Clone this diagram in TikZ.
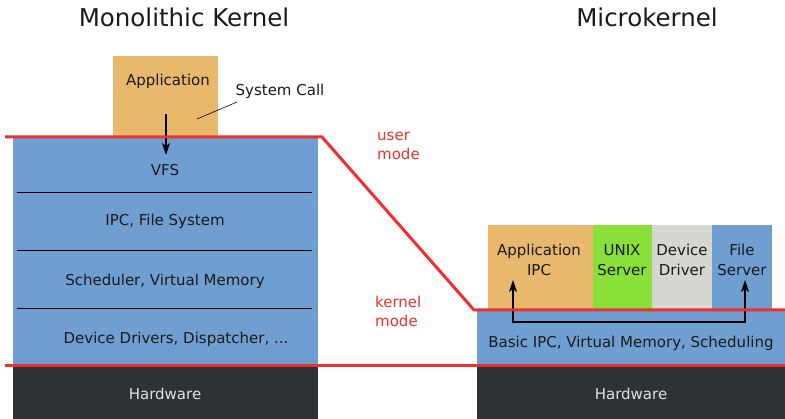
\documentclass[tikz,border=0pt]{standalone}
\usepackage{fontspec}
\setmainfont{DejaVu Sans}
\usetikzlibrary{arrows.meta}
\definecolor{appc}{HTML}{E8B86C}
\definecolor{bluec}{HTML}{6F9FD0}
\definecolor{hwc}{HTML}{2E3236}
\definecolor{greenc}{HTML}{88E038}
\definecolor{grayc}{HTML}{D5D7D2}
\definecolor{redc}{HTML}{EE3030}
\definecolor{txtc}{HTML}{1A1A1A}
\definecolor{hwtxt}{HTML}{E0E0E0}
\tikzset{
  blk/.style={rectangle, inner sep=0pt, anchor=north west, text=txtc, font=\fontsize{15}{20}\selectfont, align=center},
  lbl/.style={inner sep=0pt, text=txtc, font=\fontsize{15}{20}\selectfont},
  title/.style={inner sep=0pt, text=txtc, font=\fontsize{24.5}{28}\selectfont},
  modelbl/.style={inner sep=0pt, text=redc, font=\fontsize{15}{19}\selectfont, align=left, anchor=north west},
  redline/.style={draw=redc, line width=3pt},
  sep/.style={draw=black, line width=0.8pt},
  arr/.style={draw=black, line width=1.3pt, -{Stealth[length=12pt,width=8pt,inset=3pt]}}
}
\begin{document}
\begin{tikzpicture}[x=1pt,y=-1pt]
\useasboundingbox (0,0) rectangle (785,419);
% titles
\node[title] (t1) at (184,17) {Monolithic Kernel};
\node[title] (t2) at (647,17) {Microkernel};
% monolithic
\node[blk, fill=appc, minimum width=105pt, minimum height=81pt] (app) at (113,56) {};
\node[lbl] (apptxt) at (168,81) {Application};
\node[blk, fill=bluec, minimum width=305pt, minimum height=229pt] (kern) at (13,137) {};
\node[blk, fill=hwc, minimum width=305pt, minimum height=53pt] (hw1) at (13,366) {};
\node[lbl, text=hwtxt] (hw1txt) at (165,394) {Hardware};
\coordinate (s1a) at (17,192); \coordinate (s1b) at (312,192);
\coordinate (s2a) at (17,250); \coordinate (s2b) at (312,250);
\coordinate (s3a) at (17,308); \coordinate (s3b) at (312,308);
\draw[sep] (s1a) -- (s1b);
\draw[sep] (s2a) -- (s2b);
\draw[sep] (s3a) -- (s3b);
\node[lbl] (vfs) at (165,170) {VFS};
\node[lbl] (ipcfs) at (165,221) {IPC, File System};
\node[lbl] (sched) at (165,281) {Scheduler, Virtual Memory};
\node[lbl] (dd) at (176,339) {Device Drivers, Dispatcher, ...};
\node[lbl] (sc) at (280,91) {System Call};
\coordinate (scl1) at (197,119); \coordinate (scl2) at (237,102);
\draw[black, line width=0.6pt] (scl1) -- (scl2);
\coordinate (a1s) at (166,114); \coordinate (a1e) at (166,155);
\draw[arr] (a1s) -- (a1e);
% microkernel
\node[blk, fill=appc, minimum width=105pt, minimum height=85pt] (mapp) at (488,225) {};
\node[lbl, align=center] (mapptxt) at (539,260) {Application\\IPC};
\node[blk, fill=greenc, minimum width=59pt, minimum height=85pt] (unix) at (593,225) {};
\node[lbl, align=center] (unixtxt) at (622,260) {UNIX\\Server};
\node[blk, fill=grayc, minimum width=60pt, minimum height=85pt] (dev) at (652,225) {};
\node[lbl, align=center] (devtxt) at (682,260) {Device\\Driver};
\node[blk, fill=bluec, minimum width=60pt, minimum height=85pt] (fs) at (712,225) {};
\node[lbl, align=center] (fstxt) at (742,260) {File\\Server};
\node[blk, fill=bluec, minimum width=308pt, minimum height=56pt] (mk) at (477,310) {};
\node[lbl] (mktxt) at (631,343) {Basic IPC, Virtual Memory, Scheduling};
\node[blk, fill=hwc, minimum width=308pt, minimum height=53pt] (hw2) at (477,366) {};
\node[lbl, text=hwtxt] (hw2txt) at (631,394) {Hardware};
\coordinate (b1) at (513,322); \coordinate (b2) at (745,322);
\coordinate (u1) at (513,280); \coordinate (u2) at (745,280);
\draw[arr] (b2) -- (b1) -- (u1);
\draw[arr] (b1) -- (b2) -- (u2);
% red lines
\coordinate (r1) at (5,137); \coordinate (r2) at (322,137);
\coordinate (r3) at (474,310); \coordinate (r4) at (785,310);
\draw[redline, line join=miter] (r1) -- (r2) -- (r3) -- (r4);
\coordinate (h1) at (5,366); \coordinate (h2) at (785,366);
\draw[redline] (h1) -- (h2);
% mode labels
\node[modelbl] (um) at (377,132) {user\\mode};
\node[modelbl] (km) at (375,296) {kernel\\mode};
\end{tikzpicture}
\end{document}
